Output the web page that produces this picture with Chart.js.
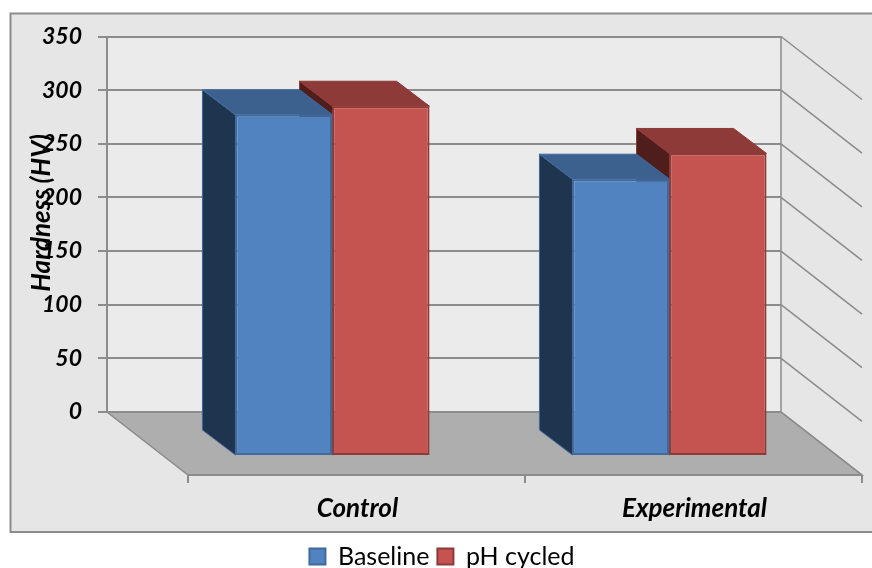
<!DOCTYPE html>
<html>
<head>
<meta charset="utf-8">
<style>
  html, body { margin: 0; padding: 0; background: #fff; }
  canvas { display: block; }
</style>
<script src="https://cdn.jsdelivr.net/npm/chart.js@4/dist/chart.umd.min.js"></script>
</head>
<body>
<canvas id="chart" width="872" height="568"></canvas>
<script>
const categories = ['Control', 'Experimental'];
const baseline = [318, 258];
const phCycled = [326, 282];

// depth of the fake 3d box, in pixels
const floorDepth = { x: 81, y: 63 };
const barFront = { x: 57, y: 44 };
const barDepth = { x: 33, y: 25 };

const lineGrey = '#8c8c8c';

// side and top colours of each series, same order as datasets
const faces = [
    { side: '#1f344e', top: '#3d618f', edge: '#3f6a9b' },
    { side: '#4f1e1c', top: '#8e3a38', edge: '#8d3936' }
];

function poly(ctx, pts, fill, stroke, width) {
    ctx.beginPath();
    pts.forEach((p, i) => i ? ctx.lineTo(p[0], p[1]) : ctx.moveTo(p[0], p[1]));
    ctx.closePath();
    if (fill) {
        ctx.fillStyle = fill;
        ctx.fill();
    }
    if (stroke) {
        ctx.strokeStyle = stroke;
        ctx.lineWidth = width;
        ctx.stroke();
    }
}

const box3d = {
    id: 'box3d',
    beforeDraw(chart) {
        const { ctx, chartArea: a, scales } = chart;
        ctx.save();

        // outer panel
        ctx.fillStyle = '#e6e6e6';
        ctx.fillRect(10, 13, 870, 519);
        ctx.strokeStyle = lineGrey;
        ctx.lineWidth = 2;
        ctx.strokeRect(10.5, 13.5, 870, 518.5);

        // back wall
        ctx.fillStyle = '#ebebeb';
        ctx.fillRect(a.left, a.top, a.right - a.left, a.bottom - a.top);

        // floor
        poly(ctx, [
            [a.left, a.bottom],
            [a.right, a.bottom],
            [a.right + floorDepth.x, a.bottom + floorDepth.y],
            [a.left + floorDepth.x, a.bottom + floorDepth.y]
        ], '#aeaeae', lineGrey, 1.5);

        // front edge ticks
        const n = categories.length;
        ctx.strokeStyle = lineGrey;
        ctx.lineWidth = 2;
        ctx.beginPath();
        for (let i = 0; i <= n; i++) {
            const tx = scales.x.left + i * scales.x.width / n + floorDepth.x;
            ctx.moveTo(tx, a.bottom + floorDepth.y);
            ctx.lineTo(tx, a.bottom + floorDepth.y + 8);
        }
        ctx.moveTo(a.left + floorDepth.x, a.bottom + floorDepth.y);
        ctx.lineTo(a.right + floorDepth.x, a.bottom + floorDepth.y);
        ctx.stroke();
        ctx.restore();
    },
    beforeDatasetsDraw(chart) {
        const { ctx, chartArea: a, scales } = chart;
        ctx.save();
        ctx.strokeStyle = lineGrey;
        ctx.lineWidth = 1.5;
        ctx.beginPath();
        // right edge of the wall
        ctx.moveTo(a.right, a.top);
        ctx.lineTo(a.right, a.bottom);
        // gridlines running along the side wall
        scales.y.ticks.forEach(t => {
            const py = scales.y.getPixelForValue(t.value);
            ctx.moveTo(a.right, py);
            ctx.lineTo(a.right + floorDepth.x, py + floorDepth.y);
        });
        ctx.stroke();
        ctx.restore();
    },
    beforeDatasetDraw(chart, args) {
        const { ctx } = chart;
        const f = faces[args.index];
        ctx.save();
        ctx.translate(barFront.x, barFront.y);
        ctx.lineJoin = 'round';
        args.meta.data.forEach(bar => {
            const l = bar.x - bar.width / 2;
            const r = bar.x + bar.width / 2;
            const dx = barDepth.x, dy = barDepth.y;
            poly(ctx, [[l, bar.y], [l - dx, bar.y - dy], [l - dx, bar.base - dy], [l, bar.base]], f.side, f.edge, 1);
            poly(ctx, [[l, bar.y], [l - dx, bar.y - dy], [r - dx, bar.y - dy], [r, bar.y]], f.top, f.edge, 1);
        });
    },
    afterDatasetDraw(chart) {
        chart.ctx.restore();
    }
};

new Chart(document.getElementById('chart'), {
    type: 'bar',
    data: {
        labels: categories,
        datasets: [
            {
                label: 'Baseline',
                data: baseline,
                backgroundColor: '#5183c0',
                borderColor: '#3f6a9b',
                borderWidth: 2,
                borderSkipped: false,
                clip: false
            },
            {
                label: 'pH cycled',
                data: phCycled,
                backgroundColor: '#c5534f',
                borderColor: '#8d3936',
                borderWidth: 2,
                borderSkipped: false,
                clip: false
            }
        ]
    },
    plugins: [box3d],
    options: {
        responsive: false,
        animation: false,
        categoryPercentage: 0.576,
        barPercentage: 1,
        layout: { padding: { left: 12, top: 36.5, right: 0, bottom: -11 } },
        plugins: {
            tooltip: { enabled: false },
            legend: {
                position: 'bottom',
                labels: {
                    boxWidth: 16,
                    boxHeight: 16,
                    padding: 8,
                    color: '#000',
                    font: { family: 'Lato', size: 25 }
                }
            }
        },
        scales: {
            x: {
                afterFit: s => { s.height = 124; },
                grid: { display: false },
                border: { display: false },
                ticks: {
                    labelOffset: 82,
                    padding: 73,
                    maxRotation: 0,
                    color: '#000',
                    font: { family: 'Lato', size: 26, weight: 'bold', style: 'italic' }
                }
            },
            y: {
                min: 0,
                max: 350,
                afterFit: s => { s.width = 95; },
                grid: { color: lineGrey, lineWidth: 2, tickLength: 9 },
                border: { color: lineGrey, width: 2 },
                ticks: {
                    stepSize: 50,
                    padding: 16,
                    color: '#000',
                    font: { family: 'Lato', size: 23, weight: 'bold', style: 'italic' }
                },
                title: {
                    display: true,
                    // leading spaces lift the label off the axis centre, as in the original
                    text: '    Hardness (HV)',
                    color: '#000',
                    padding: { top: 14, bottom: 0 },
                    font: { family: 'Lato', size: 26, weight: 'bold', style: 'italic' }
                }
            },
            // empty axis, only keeps room for the side wall
            side: {
                type: 'linear',
                position: 'right',
                afterFit: s => { s.width = 91; },
                grid: { display: false },
                border: { display: false },
                ticks: { display: false }
            }
        }
    }
});
</script>
</body>
</html>
